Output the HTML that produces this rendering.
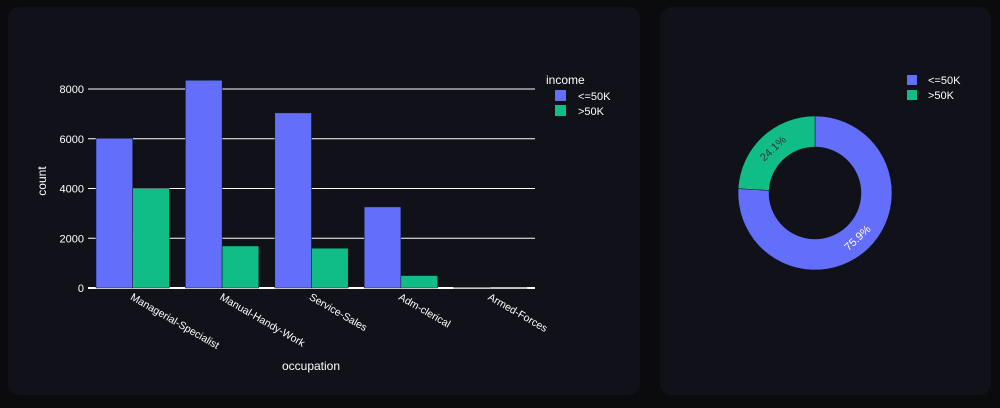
<!DOCTYPE html>
<html><head><meta charset="utf-8"><style>
body{margin:0;background:#0b0b0e;width:1000px;height:408px;overflow:hidden;font-family:"Liberation Sans",sans-serif}
.panel{position:absolute;background:#111219;border-radius:12px}
</style></head><body>
<div class="panel" style="left:8px;top:7px;width:632px;height:388px"></div>
<div class="panel" style="left:660px;top:7px;width:331px;height:388px"></div>
<svg id="s" width="1000" height="408" style="position:absolute;left:0;top:0" font-family="Liberation Sans, sans-serif"></svg>
<script>
const categories=["Managerial-Specialist","Manual-Handy-Work","Service-Sales","Adm-clerical","Armed-Forces"];
const lowIncome=[6020,8350,7040,3260,10];
const highIncome=[4000,1690,1600,500,1];
const yTicks=[0,2000,4000,6000,8000];
const pieLabels=["<=50K",">50K"];
const pieValues=[75.9,24.1];
const C1="#636efa",C2="#10bd86";
const svg=document.getElementById('s');const NS="http://www.w3.org/2000/svg";
function el(t,a,txt){const e=document.createElementNS(NS,t);for(const k in a)e.setAttribute(k,a[k]);if(txt!=null)e.textContent=txt;svg.appendChild(e);return e;}
const x0=88,x1=535,yb=288,yk=199/8000;
const y=v=>yb-v*yk;const bw=(x1-x0)/categories.length;
yTicks.forEach(t=>{
 const l=el('line',{x1:x0,x2:x1,y1:y(t),y2:y(t),stroke:'#fff','stroke-width':t?1:2});
 
 const tx=el('text',{x:x0-4,y:y(t)+4,fill:'#fff','font-size':11,'text-anchor':'end'},t);
 
});
categories.forEach((c,i)=>{
 const bx=x0+i*bw+8,w=(bw-16)/2;
 const b1=el('rect',{x:bx,y:y(lowIncome[i]),width:w,height:lowIncome[i]*yk,fill:C1,stroke:'#111219','stroke-width':0.5});
 
 const b2=el('rect',{x:bx+w,y:y(highIncome[i]),width:w,height:highIncome[i]*yk,fill:C2,stroke:'#111219','stroke-width':0.5});
 
 const cx=x0+i*bw+bw/2-3;
 const t=el('text',{x:cx,y:yb+11,fill:'#fff','font-size':10.5,transform:`rotate(30 ${cx} ${yb+11})`},c);
 
});
let e;
e=el('text',{x:311,y:370,fill:'#fff','font-size':12,'text-anchor':'middle'},'occupation');
e=el('text',{x:46,y:181,fill:'#fff','font-size':12,'text-anchor':'middle',transform:'rotate(-90 46 181)'},'count');
e=el('text',{x:546,y:84,fill:'#fff','font-size':12},'income');
[[C1,'<=50K',96],[C2,'>50K',111]].forEach(([c,t,yy])=>{
 let r=el('rect',{x:555,y:yy-6,width:11,height:11,fill:c});
 r=el('text',{x:578,y:yy+4,fill:'#fff','font-size':11},t);
 r=el('rect',{x:907,y:yy-21,width:10,height:10,fill:c});
 r=el('text',{x:928,y:yy-12,fill:'#fff','font-size':11},t);
});
// donut
const cx=815,cy=193,R=77,r0=46;const tot=pieValues.reduce((a,b)=>a+b,0);
let a=0;
pieValues.forEach((v,i)=>{
 const sweep=v/tot*2*Math.PI;const s=a,en=a+sweep;a=en;
 const P=(rr,t)=>[cx+rr*Math.sin(t),cy-rr*Math.cos(t)];
 const lg=sweep>Math.PI?1:0;
 const p1=P(R,s),p2=P(R,en),p3=P(r0,en),p4=P(r0,s);
 const p=el('path',{d:`M${p1}A${R},${R} 0 ${lg} 1 ${p2}L${p3}A${r0},${r0} 0 ${lg} 0 ${p4}Z`,fill:i?C2:C1,stroke:'#111219','stroke-width':0.5});
 
 const m=(s+en)/2;const lp=P((R+r0)/2,m);let rot=m*180/Math.PI;rot=rot%180;if(rot>90)rot-=180;
 const t=el('text',{x:lp[0],y:lp[1]+4,fill:i?'#333':'#fff','font-size':11,'text-anchor':'middle',transform:`rotate(${rot} ${lp[0]} ${lp[1]})`},v.toFixed(1)+'%');
 
});
</script></body></html>
